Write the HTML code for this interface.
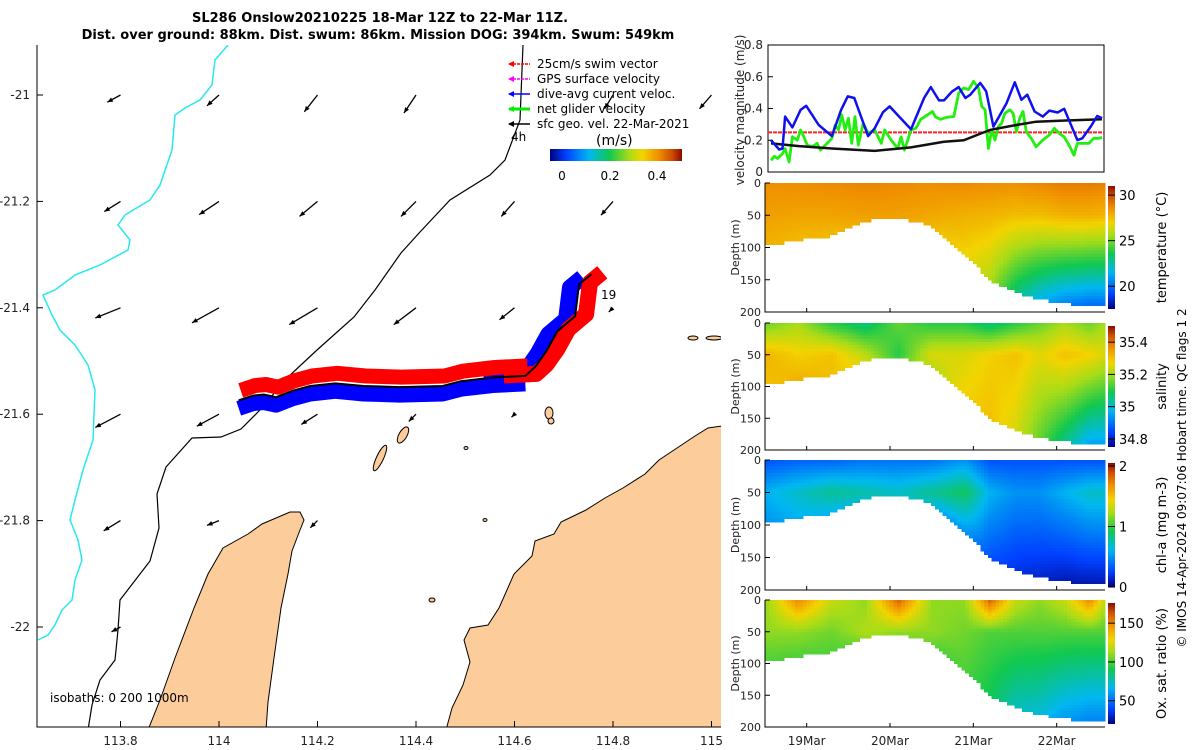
<!DOCTYPE html>
<html><head><meta charset="utf-8"><title>SL286 Onslow glider</title>
<style>
html,body{margin:0;padding:0;background:#fff;}
svg{display:block;font-family:"DejaVu Sans","Liberation Sans",sans-serif;}
</style></head>
<body>
<svg id="fig" width="1200" height="750" viewBox="0 0 1200 750">
<rect x="0" y="0" width="1200" height="750" fill="#fff"/>
<text x="380" y="22" text-anchor="middle" font-size="13" font-weight="bold">SL286 Onslow20210225 18-Mar 12Z to 22-Mar 11Z.</text>
<text x="378" y="39" text-anchor="middle" font-size="13" font-weight="bold">Dist. over ground: 88km. Dist. swum: 86km. Mission DOG: 394km. Swum: 549km</text>
<g id="map"></g>
<g id="vel"></g>
<g id="secs"></g>
<text transform="translate(1186,478) rotate(-90)" text-anchor="middle" font-size="12">© IMOS 14-Apr-2024 09:07:06 Hobart time. QC flags 1  2</text>
</svg>
<script>
// ===== Map data =====
const trackLon=[114.040,114.069,114.091,114.116,114.149,114.185,114.236,114.294,114.367,114.454,114.491,114.556,114.622,114.643,114.665,114.687,114.723,114.731,114.756];
const trackLat=[-21.574,-21.565,-21.563,-21.568,-21.556,-21.547,-21.542,-21.547,-21.549,-21.547,-21.538,-21.531,-21.528,-21.510,-21.481,-21.444,-21.416,-21.356,-21.337];
const arrowLon=[113.8,114,114.2,114.4,114.8,115, 113.8,114,114.2,114.4,114.6,114.8, 113.8,114,114.2,114.4,114.6,114.8, 113.8,114,114.2,114.4,114.6, 113.8,114,114.2, 113.8];
const arrowLat=[-21,-21,-21,-21,-21,-21, -21.2,-21.2,-21.2,-21.2,-21.2,-21.2, -21.4,-21.4,-21.4,-21.4,-21.4,-21.4, -21.6,-21.6,-21.6,-21.6,-21.6, -21.8,-21.8,-21.8, -22];
const arrowU=[-0.22,-0.20,-0.22,-0.20,-0.14,-0.20, -0.27,-0.33,-0.30,-0.25,-0.22,-0.20, -0.42,-0.45,-0.47,-0.37,-0.25,-0.07, -0.42,-0.37,-0.27,-0.12,-0.05, -0.28,-0.20,-0.12, -0.15];
const arrowV=[-0.12,-0.18,-0.28,-0.30,-0.23,-0.23, -0.17,-0.22,-0.25,-0.25,-0.25,-0.23, -0.17,-0.25,-0.28,-0.28,-0.20,-0.07, -0.22,-0.20,-0.17,-0.12,-0.05, -0.17,-0.08,-0.12, -0.08];
const lonTicks=[113.8,114,114.2,114.4,114.6,114.8,115];
const latTicks=[-21,-21.2,-21.4,-21.6,-21.8,-22];
const MX=lon=>219+(lon-114)*492.5, MY=lat=>95+(-21-lat)*532;
const NS='http://www.w3.org/2000/svg';
function mk(tag,attrs,parent,txt){const e=document.createElementNS(NS,tag);for(const k in attrs)e.setAttribute(k,attrs[k]);if(txt!==undefined)e.textContent=txt;parent.appendChild(e);return e;}
const map=document.getElementById('map');
const cp=mk('clipPath',{id:'mapclip'},map);mk('rect',{x:37,y:45,width:684,height:682},cp);
const mg=mk('g',{'clip-path':'url(#mapclip)'},map);
let e;
e=mk('path',{d:'M148,730 L160,700 L175,658 L194,608 L208,574 L223,548 L248,534 L262,524 L290,512 L300,512 L304,520 L300,530 L292,551 L288,574 L281,608 L274,658 L268,702 L266,730 Z',fill:'#fccd9b',stroke:'#000','stroke-width':1},mg);


e=mk('path',{d:'M446,730 L452,708 L463,685 L470,662 L464,640 L470,628 L488,625 L499,608 L514,574 L532,556 L535,541 L554,534 L561,522 L586,510 L605,498 L623,488 L645,474 L659,460 L674,450 L695,436 L708,428 L722,426 L722,730 Z',fill:'#fccd9b',stroke:'#000','stroke-width':1},mg);


const isl=[[403,435,9,4,-60],[380,458,14,3.5,-65],[549,413,4,6,0],[551,421,3,3,0],[714,338,8,2,0],[693,338,5,2,0],[466,448,2,1.5,0],[485,520,2,1.5,0],[432,600,3,2,0]];
isl.forEach(a=>{const el=mk('ellipse',{cx:a[0],cy:a[1],rx:a[2],ry:a[3],transform:`rotate(${a[4]} ${a[0]} ${a[1]})`,fill:'#fccd9b',stroke:'#000','stroke-width':1},mg);

});
e=mk('polyline',{points:'228,45 215,60 212,85 200,100 185,108 175,115 172,150 160,185 150,200 125,215 118,225 130,240 128,250 100,265 75,275 55,290 43,295 52,315 60,330 75,345 88,365 95,390 93,440 83,470 75,500 70,520 78,540 82,560 75,580 72,600 62,610 55,625 48,635 38,640',fill:'none',stroke:'#27e8f0','stroke-width':1.5},mg);


e=mk('polyline',{points:'88,730 92,705 100,680 115,660 118,630 120,600 150,561 159,528 157,494 166,467 192,438 221,437 241,429 259,411 288,377 317,350 354,317 375,290 401,253 420,232 450,200 490,175 505,160 520,120 523,45',fill:'none',stroke:'#000','stroke-width':1.2},mg);


const tp=trackLon.map((l,i)=>[MX(l),MY(trackLat[i])]);
const pts=(arr,dx,dy)=>arr.map(p=>(p[0]+dx)+','+(p[1]+dy)).join(' ');
const w1=tp.slice(0,13), w2=tp.slice(11);
e=mk('polyline',{points:pts(w1,0,8),fill:'none',stroke:'#0000ff','stroke-width':15,'stroke-linejoin':'round'},mg);


e=mk('polyline',{points:pts(w2,-9,3),fill:'none',stroke:'#0000ff','stroke-width':16,'stroke-linejoin':'round'},mg);


e=mk('polyline',{points:pts(w1,2,-10),fill:'none',stroke:'#ff0000','stroke-width':15,'stroke-linejoin':'round'},mg);


e=mk('polyline',{points:pts(w2,11,-2),fill:'none',stroke:'#ff0000','stroke-width':16,'stroke-linejoin':'round'},mg);


e=mk('polyline',{points:pts(tp,0,0),fill:'none',stroke:'#000','stroke-width':2},mg);


e=mk('text',{x:601,y:299,'font-size':12},mg,'19');


const AS=60;
arrowLon.forEach((lon,i)=>{const x0=MX(lon),y0=MY(arrowLat[i]);const x1=x0+arrowU[i]*AS,y1=y0-arrowV[i]*AS;
const ang=Math.atan2(y1-y0,x1-x0);const h=6;
const g=mk('g',{},mg);


mk('line',{x1:x0,y1:y0,x2:x1,y2:y1,stroke:'#000','stroke-width':1.3},g);
mk('polygon',{points:`${x1},${y1} ${x1-h*Math.cos(ang-0.4)},${y1-h*Math.sin(ang-0.4)} ${x1-h*Math.cos(ang+0.4)},${y1-h*Math.sin(ang+0.4)}`,fill:'#000'},g);});
e=mk('polyline',{points:'37,45 37,727 721,727',fill:'none',stroke:'#000','stroke-width':1},map);


lonTicks.forEach(v=>{const x=MX(v);mk('line',{x1:x,y1:727,x2:x,y2:721,stroke:'#000'},map);
const t=mk('text',{x:x,y:745,'text-anchor':'middle','font-size':12,fill:'#222'},map,String(v));

});
latTicks.forEach(v=>{const y=MY(v);mk('line',{x1:37,y1:y,x2:43,y2:y,stroke:'#000'},map);
const t=mk('text',{x:30,y:y+4,'text-anchor':'end','font-size':12,fill:'#222'},map,String(v));

});
e=mk('text',{x:50,y:702,'font-size':12},map,'isobaths: 0   200  1000m');


const legC=['#ff0000','#ff00ff','#0000ff','#00ee00','#000'],legT=['25cm/s swim vector','GPS surface velocity','dive-avg current veloc.','net glider velocity','sfc geo. vel. 22-Mar-2021'];
legT.forEach((t,i)=>{const y=64+i*15;const g=mk('g',{},map);


mk('line',{x1:509,y1:y,x2:530,y2:y,stroke:legC[i],'stroke-width':i==3?3:1.5,'stroke-dasharray':i<2?'3,1':'none'},g);
mk('polygon',{points:`508,${y} 514,${y-3} 514,${y+3}`,fill:legC[i]},g);
mk('text',{x:537,y:y+4,'font-size':12},g,t);});
e=mk('text',{x:511,y:141,'font-size':12},map,'4h');


e=mk('text',{x:596,y:145,'font-size':14},map,'(m/s)');


const gdef=mk('defs',{},document.getElementById('fig'));
const lg=mk('linearGradient',{id:'cbh',x1:0,x2:1,y1:0,y2:0},gdef);
const stops=[[0,'#000080'],[0.12,'#0040ff'],[0.3,'#00b8f0'],[0.45,'#10c850'],[0.6,'#a8dc18'],[0.7,'#f2d400'],[0.82,'#f09000'],[0.92,'#d05000'],[1,'#8a0c00']];
stops.forEach(s=>mk('stop',{offset:s[0],'stop-color':s[1]},lg));
const lgv=mk('linearGradient',{id:'cbv',x1:0,x2:0,y1:1,y2:0},gdef);
stops.forEach(s=>mk('stop',{offset:s[0],'stop-color':s[1]},lgv));
e=mk('rect',{x:550,y:149,width:132,height:12,fill:'url(#cbh)'},map);


[['0',562],['0.2',610],['0.4',657]].forEach(a=>{const t=mk('text',{x:a[1],y:180,'text-anchor':'middle','font-size':12},map,a[0]);

});

// ===== Velocity chart data =====
const blueT=[18.535,18.636,18.676,18.708,18.796,18.896,18.964,19.116,19.276,19.388,19.468,19.548,19.716,19.796,19.897,19.976,20.236,20.396,20.477,20.577,20.637,20.737,20.816,20.897,20.957,21.077,21.149,21.237,21.397,21.497,21.577,21.649,21.737,21.837,21.917,22.017,22.097,22.257,22.317,22.418,22.497,22.557];
const blueV=[0.201,0.142,0.148,0.349,0.281,0.391,0.417,0.296,0.226,0.391,0.476,0.466,0.226,0.275,0.377,0.413,0.269,0.466,0.535,0.451,0.451,0.508,0.535,0.466,0.487,0.561,0.508,0.286,0.434,0.565,0.455,0.487,0.381,0.349,0.387,0.375,0.398,0.201,0.212,0.286,0.353,0.339];
const greenT=[18.536,18.576,18.616,18.676,18.708,18.756,18.796,18.856,18.896,18.936,18.976,19.036,19.096,19.136,19.216,19.276,19.316,19.356,19.396,19.436,19.476,19.516,19.556,19.596,19.656,19.716,19.796,19.876,19.916,19.996,20.076,20.116,20.156,20.196,20.236,20.296,20.356,20.436,20.496,20.536,20.596,20.676,20.756,20.816,20.876,20.936,20.996,21.056,21.096,21.136,21.176,21.216,21.256,21.296,21.336,21.376,21.436,21.476,21.516,21.556,21.596,21.636,21.696,21.756,21.836,21.916,21.976,22.036,22.096,22.156,22.216,22.256,22.316,22.396,22.456,22.516,22.556];
const greenV=[0.074,0.099,0.085,0.116,0.148,0.063,0.222,0.201,0.265,0.222,0.169,0.159,0.180,0.138,0.180,0.212,0.296,0.265,0.360,0.265,0.339,0.180,0.349,0.169,0.307,0.243,0.265,0.180,0.265,0.201,0.148,0.222,0.138,0.201,0.265,0.275,0.332,0.360,0.381,0.345,0.332,0.345,0.349,0.497,0.529,0.519,0.571,0.529,0.413,0.392,0.148,0.265,0.201,0.286,0.307,0.370,0.392,0.370,0.254,0.339,0.381,0.254,0.212,0.159,0.201,0.233,0.275,0.243,0.222,0.169,0.106,0.180,0.180,0.180,0.212,0.212,0.218];
const blackT=[18.536,18.876,19.276,19.796,20.236,20.636,20.876,21.196,21.516,21.756,22.076,22.556];
const blackV=[0.180,0.163,0.148,0.133,0.155,0.190,0.200,0.265,0.296,0.317,0.324,0.332];
const swimRef=[0.25];
const velTicks=[0,0.2,0.4,0.6,0.8];
const T0=18.5,T1=22.58;
const VX=t=>768+(t-T0)/(T1-T0)*336, VY=v=>172-v/0.8*127;
const vel=document.getElementById('vel');
e=mk('rect',{x:768,y:45,width:336,height:127,fill:'none',stroke:'#000'},vel);


velTicks.forEach(v=>{const y=VY(v);mk('line',{x1:768,y1:y,x2:773,y2:y,stroke:'#000'},vel);
const t=mk('text',{x:763,y:y+4,'text-anchor':'end','font-size':12,fill:'#222'},vel,String(v));

});
e=mk('text',{transform:'translate(744,110) rotate(-90)','text-anchor':'middle','font-size':12,fill:'#222'},vel,'velocity magnitude (m/s)');


const line=(T,V)=>T.map((t,i)=>VX(t).toFixed(1)+','+VY(V[i]).toFixed(1)).join(' ');
e=mk('line',{x1:VX(T0),x2:VX(T1),y1:VY(swimRef[0]),y2:VY(swimRef[0]),stroke:'#ff2020','stroke-width':2,'stroke-dasharray':'4,1'},vel);


e=mk('polyline',{points:line(greenT,greenV),fill:'none',stroke:'#22ee10','stroke-width':2.8,'stroke-linejoin':'round'},vel);


e=mk('polyline',{points:line(blackT,blackV),fill:'none',stroke:'#111','stroke-width':2.5},vel);


e=mk('polyline',{points:line(blueT,blueV),fill:'none',stroke:'#1010ee','stroke-width':2.5,'stroke-linejoin':'round'},vel);



// ===== Section data =====
const secT=[18.5,18.9,19.3,19.7,20.1,20.5,20.9,21.2,21.5,21.8,22.1,22.4,22.58];
const bathyT=[18.5,18.92,19.22,19.76,20.12,20.48,20.84,21.2,21.44,21.8,22.28,22.58];
const bathyD=[97,88,85,57,54,65,104,150,166,181,189,190];
const tempS=[28.6,28.6,28.7,28.8,28.7,28.6,28.7,28.6,28.6,28.8,29.0,29.0,28.9];
const tempM=[28.2,28.1,28.1,28.2,28.2,28.0,27.8,27.7,27.5,27.5,27.8,27.8,27.7];
const tempB=[27.8,27.6,27.6,27.7,27.7,27.5,27.0,25.8,23.2,21.5,20.5,20,20];
const salS=[35.15,35.2,35.1,35.05,35.15,35.1,35.1,35.05,35.1,35.15,35.2,35.15,35.2];
const salM=[35.32,35.28,35.3,35.22,35.1,35.25,35.25,35.28,35.3,35.26,35.3,35.28,35.25];
const salB=[35.3,35.32,35.3,35.28,35.2,35.2,35.28,35.3,35.25,35.15,35.05,34.95,34.95];
const chlS=[0.3,0.35,0.35,0.4,0.4,0.4,0.5,0.3,0.3,0.3,0.3,0.3,0.3];
const chlM=[0.6,0.7,0.8,0.75,0.7,0.8,0.9,0.6,0.5,0.5,0.6,0.7,0.7];
const chlB=[0.5,0.6,0.6,0.6,0.6,0.6,0.5,0.3,0.2,0.15,0.1,0.1,0.1];
const oxS=[110,150,120,110,160,110,110,160,120,110,120,150,120];
const oxM=[110,110,105,115,110,110,105,100,100,100,100,100,100];
const oxB=[100,100,100,100,100,100,100,90,75,70,60,55,55];
const dateTicks=[19,20,21,22], dateLabels=['19Mar','20Mar','21Mar','22Mar'];
const depthTicks=[0,50,100,150,200];
const panels=[
 {name:'temperature',top:183,h:129,S:tempS,M:tempM,B:tempB,lo:17.5,hi:31,ticks:[20,25,30],title:'temperature (°C)'},
 {name:'salinity',top:323,h:127,S:salS,M:salM,B:salB,lo:34.75,hi:35.5,ticks:[34.8,35,35.2,35.4],title:'salinity'},
 {name:'chlorophyll',top:460,h:130,S:chlS,M:chlM,B:chlB,lo:0,hi:2.05,ticks:[0,1,2],title:'chl-a (mg m-3)'},
 {name:'oxygen',top:600,h:127,S:oxS,M:oxM,B:oxB,lo:20,hi:176,ticks:[50,100,150],title:'Ox. sat. ratio (%)'}];
function interp(T,V,t){if(t<=T[0])return V[0];for(let i=1;i<T.length;i++){if(t<=T[i]){const f=(t-T[i-1])/(T[i]-T[i-1]);return V[i-1]+f*(V[i]-V[i-1]);}}return V[V.length-1];}
function hex(c){return [parseInt(c.substr(1,2),16),parseInt(c.substr(3,2),16),parseInt(c.substr(5,2),16)];}
function cmap(f){f=Math.max(0,Math.min(1,f));for(let i=1;i<stops.length;i++){if(f<=stops[i][0]){const a=hex(stops[i-1][1]),b=hex(stops[i][1]);const g=(f-stops[i-1][0])/(stops[i][0]-stops[i-1][0]);return 'rgb('+a.map((v,k)=>Math.round(v+g*(b[k]-v))).join(',')+')';}}return stops[stops.length-1][1];}
const secs=document.getElementById('secs');
const SX=t=>765+(t-T0)/(T1-T0)*340;
const NC=90,NR=40;
panels.forEach((p,pi)=>{
 const g=mk('g',{},secs);
 
 
 const DY=d=>p.top+d/200*p.h;
 const cells=mk('g',{'shape-rendering':'crispEdges'},g);
 for(let c=0;c<NC;c++){const t=T0+(c+0.5)/NC*(T1-T0);const bot=interp(bathyT,bathyD,t);
  const s=interp(secT,p.S,t),m=interp(secT,p.M,t),b=interp(secT,p.B,t);
  for(let r=0;r<NR;r++){const d=(r+0.5)*5;if(d>bot)break;
   const v=d<50?s+(m-s)*d/50:m+(b-m)*Math.min(1,(d-50)/Math.max(30,bot-50));
   const x0=SX(T0+c/NC*(T1-T0)),x1=SX(T0+(c+1)/NC*(T1-T0));
   mk('rect',{x:x0.toFixed(1),y:DY(r*5).toFixed(1),width:(x1-x0+0.6).toFixed(1),height:(p.h/NR+0.6).toFixed(1),fill:cmap((v-p.lo)/(p.hi-p.lo))},cells);}}
 mk('polyline',{points:`765,${p.top} 765,${p.top+p.h} 1105,${p.top+p.h}`,fill:'none',stroke:'#000'},g);
 depthTicks.forEach(d=>{const y=DY(d);mk('line',{x1:765,y1:y,x2:770,y2:y,stroke:'#000'},g);
  const t=mk('text',{x:761,y:y+4,'text-anchor':'end','font-size':11,fill:'#222'},g,String(d));
  
  });
 dateTicks.forEach(t=>mk('line',{x1:SX(t),x2:SX(t),y1:p.top+p.h,y2:p.top+p.h-4,stroke:'#000'},g));
 const yt=mk('text',{transform:`translate(739,${p.top+p.h/2}) rotate(-90)`,'text-anchor':'middle','font-size':11,fill:'#222'},g,'Depth (m)');
 
 
 const cb=mk('rect',{x:1108,y:p.top+3,width:7,height:p.h-6,fill:'url(#cbv)'},g);
 
 
 const CY=v=>p.top+3+(p.h-6)*(1-(v-p.lo)/(p.hi-p.lo));
 p.ticks.forEach(v=>{const y=CY(v);mk('line',{x1:1108,x2:1115,y1:y,y2:y,stroke:'#000'},g);
  const t=mk('text',{x:1119,y:y+5,'font-size':13},g,String(v));
  
  });
 const ct=mk('text',{transform:`translate(1166,${p.top+p.h/2}) rotate(-90)`,'text-anchor':'middle','font-size':13},g,p.title);
 
 
 if(pi===3){dateTicks.forEach((t,i)=>{const tx=mk('text',{x:SX(t),y:745,'text-anchor':'middle','font-size':12,fill:'#222'},g,dateLabels[i]);
  
  });}
});
</script>
</body></html>
